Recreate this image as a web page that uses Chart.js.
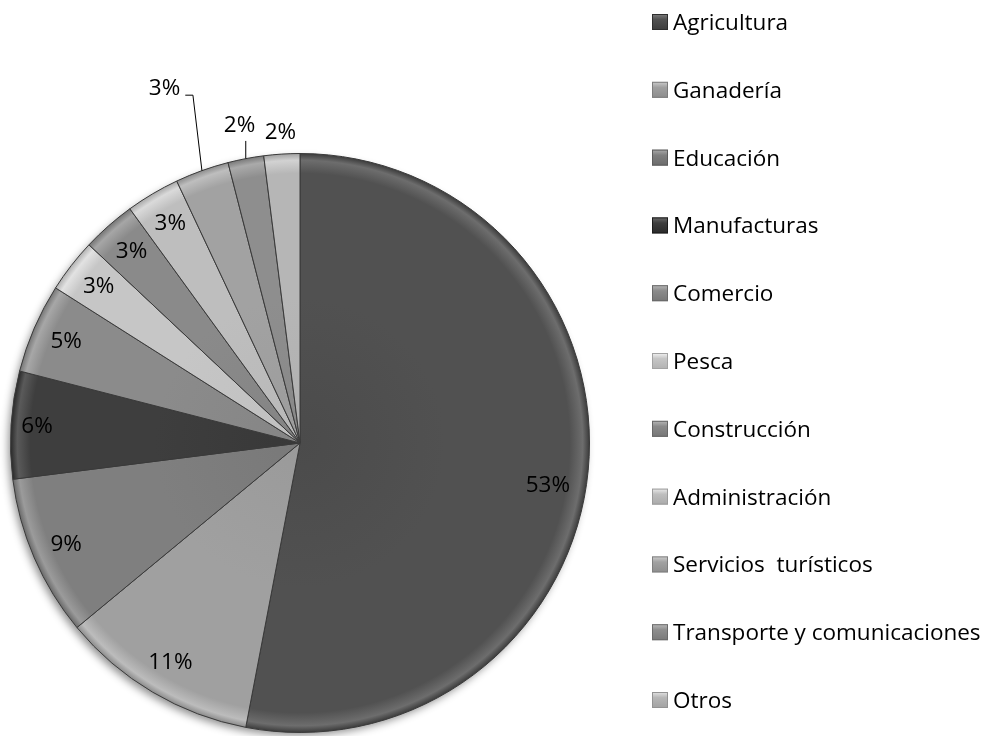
<!DOCTYPE html>
<html>
<head>
<meta charset="utf-8">
<script src="https://cdn.jsdelivr.net/npm/chart.js@4/dist/chart.umd.min.js"></script>
<style>
  body { margin: 0; background: #fff; }
  #wrap { width: 995px; height: 736px; }
</style>
</head>
<body>
<div id="wrap"><canvas id="pieChart" width="995" height="736"></canvas></div>
<script>
const categories = ["Agricultura", "Ganadería", "Educación", "Manufacturas", "Comercio", "Pesca",
  "Construcción", "Administración", "Servicios  turísticos", "Transporte y comunicaciones", "Otros"];
const shares = [53, 11, 9, 6, 5, 3, 3, 3, 3, 2, 2];
const sliceColors = ["#515151", "#a0a0a0", "#7f7f7f", "#3e3e3e", "#8b8b8b", "#c6c6c6",
  "#8a8a8a", "#bebebe", "#a2a2a2", "#8e8e8e", "#b6b6b6"];

const FONT = '"Open Sans", "Liberation Sans", sans-serif';
const FONT_SIZE = 22.5;

function shade(hex, amt) {
  const n = parseInt(hex.slice(1), 16);
  const c = [(n >> 16) & 255, (n >> 8) & 255, n & 255].map(v => Math.max(0, Math.min(255, v + amt)));
  return "rgb(" + c.join(",") + ")";
}

// slice fill with a bevelled rim, like the office chart
function sliceFill(ctx) {
  const chart = ctx.chart;
  const base = sliceColors[ctx.dataIndex];
  const area = chart.chartArea;
  if (!area) return base;
  const cx = (area.left + area.right) / 2, cy = (area.top + area.bottom) / 2;
  const r = Math.min(area.right - area.left, area.bottom - area.top) / 2;
  const g = chart.ctx.createRadialGradient(cx, cy, 0, cx, cy, r);
  g.addColorStop(0, shade(base, -6));
  g.addColorStop(0.5, base);
  g.addColorStop(0.93, base);
  g.addColorStop(0.975, shade(base, 28));
  g.addColorStop(1, shade(base, -25));
  return g;
}

const pieDecor = {
  id: "pieDecor",
  beforeDatasetsDraw(chart) {
    const arc = chart.getDatasetMeta(0).data[0];
    if (!arc) return;
    const ctx = chart.ctx;
    ctx.save();
    ctx.shadowColor = "rgba(0,0,0,0.45)";
    ctx.shadowBlur = 9;
    ctx.shadowOffsetX = -3;
    ctx.shadowOffsetY = 4;
    ctx.fillStyle = "#666";
    ctx.beginPath();
    ctx.arc(arc.x, arc.y, arc.outerRadius - 1, 0, Math.PI * 2);
    ctx.fill();
    ctx.restore();
  },
  afterDatasetsDraw(chart, args, opts) {
    const ctx = chart.ctx;
    const arcs = chart.getDatasetMeta(0).data;
    ctx.save();
    ctx.font = FONT_SIZE + "px " + FONT;
    ctx.fillStyle = "#000";
    ctx.textAlign = "center";
    ctx.textBaseline = "middle";
    arcs.forEach((a, i) => {
      const mid = (a.startAngle + a.endAngle) / 2;
      const f = opts.radius[i];
      const nudge = opts.nudge[i] || [0, 0];
      const lx = a.x + Math.cos(mid) * a.outerRadius * f + nudge[0];
      const ly = a.y + Math.sin(mid) * a.outerRadius * f + nudge[1];
      const text = shares[i] + "%";
      ctx.fillText(text, lx, ly);
      if (opts.leaders.includes(i)) {
        const ex = a.x + Math.cos(mid) * a.outerRadius;
        const ey = a.y + Math.sin(mid) * a.outerRadius;
        const w = ctx.measureText(text).width;
        ctx.strokeStyle = "#000";
        ctx.lineWidth = 1;
        ctx.beginPath();
        if (ex > lx - w / 2 && ex < lx + w / 2) {
          ctx.moveTo(ex, ey);
          ctx.lineTo(ex, ly + 15);
        } else {
          ctx.moveTo(ex, ey);
          ctx.lineTo(ex - 9, ly + 7);
          ctx.lineTo(lx + w / 2 + 5, ly + 7);
        }
        ctx.stroke();
      }
    });
    ctx.restore();
  },
  afterDraw(chart, args, opts) {
    const ctx = chart.ctx;
    ctx.save();
    ctx.font = FONT_SIZE + "px " + FONT;
    ctx.textBaseline = "alphabetic";
    ctx.textAlign = "left";
    chart.data.labels.forEach((label, i) => {
      const cy = opts.legendTop + i * opts.legendStep;
      const bx = opts.legendLeft, by = cy - 8, s = 16;
      const col = sliceColors[i];
      const g = ctx.createLinearGradient(bx, by, bx, by + s);
      g.addColorStop(0, shade(col, 45));
      g.addColorStop(0.35, col);
      g.addColorStop(1, shade(col, -20));
      ctx.fillStyle = g;
      ctx.fillRect(bx, by, s, s);
      ctx.strokeStyle = shade(col, -35);
      ctx.lineWidth = 1;
      ctx.strokeRect(bx + 0.5, by + 0.5, s - 1, s - 1);
      ctx.fillStyle = "#000";
      ctx.fillText(label, bx + s + 5, cy + 8);
    });
    ctx.restore();
  }
};

const ctx = document.getElementById("pieChart").getContext("2d");
const pieChart = new Chart(ctx, {
  type: "pie",
  data: {
    labels: categories,
    datasets: [
      {
        data: shares,
        backgroundColor: sliceFill,
        borderColor: "#3a3a3a",
        borderWidth: 1,
      },
    ],
  },
  options: {
    responsive: false,
    devicePixelRatio: 1,
    animation: false,
    layout: { padding: { left: 10, top: 153, right: 405, bottom: 3 } },
    plugins: {
      legend: { display: false },
      tooltip: { enabled: false },
      pieDecor: {
        radius: [0.86, 0.88, 0.88, 0.91, 0.88, 0.88, 0.88, 0.88, 1.31, 1.115, 1.075],
        nudge: { 0: [0, 19], 8: [-7, 2] },
        leaders: [8, 9],
        legendLeft: 652,
        legendTop: 22,
        legendStep: 67.8,
      },
    },
  },
  plugins: [pieDecor],
});
</script>
</body>
</html>
